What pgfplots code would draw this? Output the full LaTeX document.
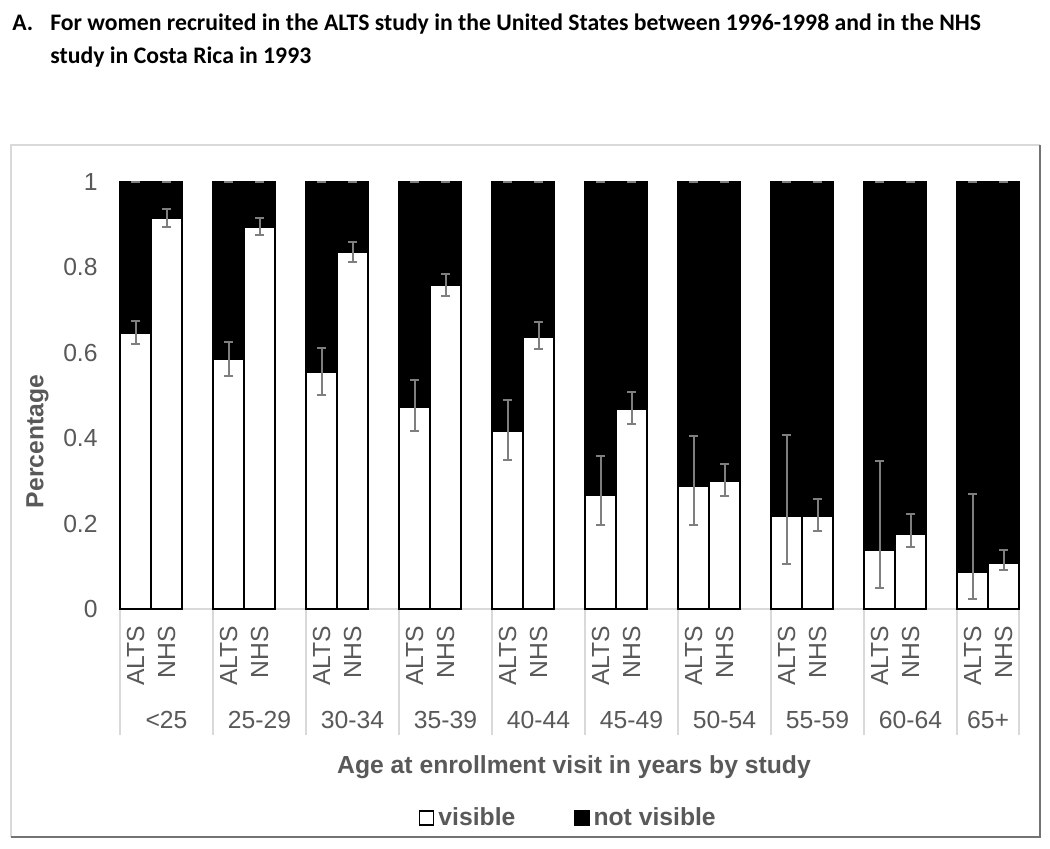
\documentclass[border=0pt]{standalone}
\usepackage{fontspec}
\setmainfont{Liberation Sans}
\newfontfamily\titlefont{Carlito}
\usepackage{pgfplots}
\pgfplotsset{compat=1.18}
\definecolor{txt}{HTML}{595959}
\definecolor{axc}{HTML}{D9D9D9}
\definecolor{ebc}{HTML}{7F7F7F}
\newcommand{\fs}{\fontsize{12.35pt}{14pt}\selectfont}
\newcommand{\tfs}{\titlefont\bfseries\fontsize{11.85pt}{14pt}\selectfont}
\begin{document}
\begin{tikzpicture}
\useasboundingbox (0,0) rectangle (525pt,-424pt);
\fill[white] (0,0) rectangle (525pt,-424pt);
% chart frame
\draw[axc, line width=0.75pt] (5.5pt,-418.3pt) -- (5.5pt,-72.5pt) -- (520pt,-72.5pt);
\draw[black!55, line width=1pt] (520pt,-72.5pt) -- (520pt,-418.3pt) -- (5.5pt,-418.3pt);
% title
\node[anchor=base west, inner sep=0pt, font=\tfs] at (6pt,-15.4pt) {A.};
\node[anchor=base west, inner sep=0pt, font=\tfs] at (25pt,-15.4pt) {For women recruited in the ALTS study in the United States between 1996-1998 and in the NHS};
\node[anchor=base west, inner sep=0pt, font=\tfs] at (25pt,-31.6pt) {study in Costa Rica in 1993};

\begin{axis}[
  at={(60pt,-304.5pt)}, anchor=south west,
  scale only axis, width=449.5pt, height=213.65pt,
  ybar stacked, bar width=15.5pt,
  xmin=-0.5, xmax=28.5, ymin=0, ymax=1,
  clip=false,
  axis x line*=bottom, axis y line*=left,
  x axis line style={draw=axc, line width=1pt, -},
  y axis line style={draw=none, -},
  ytick={0,0.2,0.4,0.6,0.8,1},
  ytick style={draw=none},
  yticklabel style={anchor=east, inner sep=0pt, xshift=-11pt, font=\fs, text=txt},
  /pgf/number format/assume math mode=true,
  xtick={0,1,3,4,6,7,9,10,12,13,15,16,18,19,21,22,24,25,27,28},
  xticklabels={ALTS,NHS,ALTS,NHS,ALTS,NHS,ALTS,NHS,ALTS,NHS,ALTS,NHS,ALTS,NHS,ALTS,NHS,ALTS,NHS,ALTS,NHS},
  xtick style={draw=none},
  xticklabel style={rotate=90, anchor=east, inner sep=0pt, xshift=-8.3pt, font=\fs, text=txt},
  extra x ticks={-0.5,2.5,5.5,8.5,11.5,14.5,17.5,20.5,23.5,26.5,28.5},
  extra x tick labels={},
  extra x tick style={tick align=outside, major tick length=63pt, xtick style={draw=axc, line width=0.75pt}},
  xlabel={Age at enrollment visit in years by study},
  xlabel style={at={(axis description cs:0.505,-0.370)}, anchor=center, font=\bfseries\fs, text=txt},
  ylabel={Percentage},
  ylabel style={at={(axis description cs:-0.0918,0.392)}, anchor=center, font=\bfseries\fs, text=txt},
  legend style={at={(axis description cs:0.5,-0.489)}, anchor=center, draw=none, fill=none,
    legend columns=2, font=\bfseries\fs, text=txt,
    /tikz/every even column/.append style={column sep=27.5pt}},
  legend image code/.code={\draw[#1, line width=0.6pt] (0pt,-3.5pt) rectangle (7pt,3.5pt);},
]
\addplot[fill=white, draw=black, line width=0.75pt] coordinates {
 (0,0.645) (1,0.915) (3,0.584) (4,0.894) (6,0.555) (7,0.834) (9,0.473) (10,0.757)
 (12,0.415) (13,0.637) (15,0.267) (16,0.468) (18,0.288) (19,0.298) (21,0.216) (22,0.216)
 (24,0.137) (25,0.176) (27,0.087) (28,0.106)};
\addlegendentry{visible}
\addplot[fill=black, draw=black, line width=0.75pt] coordinates {
 (0,0.355) (1,0.085) (3,0.416) (4,0.106) (6,0.445) (7,0.166) (9,0.527) (10,0.243)
 (12,0.585) (13,0.363) (15,0.733) (16,0.532) (18,0.712) (19,0.702) (21,0.784) (22,0.784)
 (24,0.863) (25,0.824) (27,0.913) (28,0.894)};
\addlegendentry{not visible}
\end{axis}

\begin{axis}[
  at={(60pt,-304.5pt)}, anchor=south west,
  scale only axis, width=449.5pt, height=213.65pt,
  xmin=-0.5, xmax=28.5, ymin=0, ymax=1,
  clip=false,
  axis x line*=bottom, axis y line*=left,
  x axis line style={draw=none, -},
  y axis line style={draw=none, -},
  ytick=\empty,
  xtick={1,4,7,10,13,16,19,22,25,27.5},
  xticklabels={<25,25-29,30-34,35-39,40-44,45-49,50-54,55-59,60-64,65+},
  xtick style={draw=none},
  xticklabel style={anchor=center, inner sep=0pt, yshift=-55.5pt, font=\fs, text=txt},
]
\addplot[draw=none, mark=none, error bars/.cd, y dir=both, y explicit, error mark=-,
  error bar style={draw=ebc, line width=1pt},
  error mark options={draw=ebc, line width=1pt, mark size=2.33pt, rotate=90}] coordinates {
 (0,0.645) += (0,0.030) -= (0,0.024)
 (1,0.915) += (0,0.020) -= (0,0.020)
 (3,0.584) += (0,0.042) -= (0,0.039)
 (4,0.894) += (0,0.020) -= (0,0.018)
 (6,0.555) += (0,0.056) -= (0,0.053)
 (7,0.834) += (0,0.024) -= (0,0.021)
 (9,0.473) += (0,0.063) -= (0,0.056)
 (10,0.757) += (0,0.028) -= (0,0.025)
 (12,0.415) += (0,0.074) -= (0,0.066)
 (13,0.637) += (0,0.034) -= (0,0.029)
 (15,0.267) += (0,0.091) -= (0,0.070)
 (16,0.468) += (0,0.041) -= (0,0.034)
 (18,0.288) += (0,0.118) -= (0,0.092)
 (19,0.298) += (0,0.041) -= (0,0.034)
 (21,0.216) += (0,0.191) -= (0,0.111)
 (22,0.216) += (0,0.041) -= (0,0.033)
 (24,0.137) += (0,0.209) -= (0,0.087)
 (25,0.176) += (0,0.046) -= (0,0.032)
 (27,0.087) += (0,0.181) -= (0,0.064)
 (28,0.106) += (0,0.031) -= (0,0.015)};
\addplot[draw=none, mark=none, error bars/.cd, y dir=both, y explicit, error mark=-,
  error bar style={draw=ebc, line width=1pt},
  error mark options={draw=ebc, line width=1pt, mark size=2.33pt, rotate=90}] coordinates {
 (0,1) +- (0,0) (1,1) +- (0,0) (3,1) +- (0,0) (4,1) +- (0,0) (6,1) +- (0,0) (7,1) +- (0,0)
 (9,1) +- (0,0) (10,1) +- (0,0) (12,1) +- (0,0) (13,1) +- (0,0) (15,1) +- (0,0) (16,1) +- (0,0)
 (18,1) +- (0,0) (19,1) +- (0,0) (21,1) +- (0,0) (22,1) +- (0,0) (24,1) +- (0,0) (25,1) +- (0,0)
 (27,1) +- (0,0) (28,1) +- (0,0)};
\end{axis}
\end{tikzpicture}
\end{document}
